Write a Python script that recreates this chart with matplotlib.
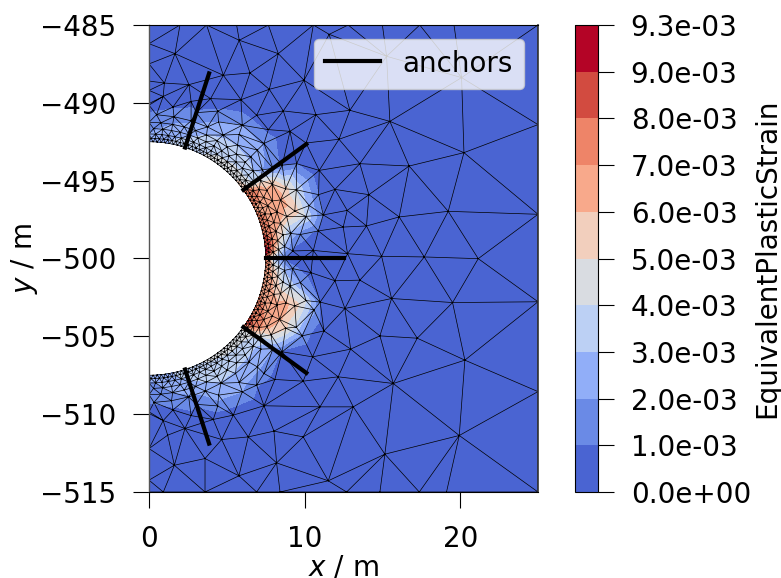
import numpy as np
import matplotlib
matplotlib.use("Agg")
import matplotlib.pyplot as plt
import matplotlib.tri as mtri
from matplotlib.cm import ScalarMappable
from matplotlib.colors import BoundaryNorm, ListedColormap
from matplotlib.ticker import FuncFormatter

# coarse mesh nodes (m), strain in units of 1e-3
coarse_x = [1.67, 5.80, 8.31, 11.58, 0.99, 2.57, 3.96, 5.91, 7.73, 9.96, 4.78, 6.49,
            8.63, 10.73, 6.92, 7.67, 9.06, 10.09, 12.21, 10.94, 11.95, 9.49,
            10.88, 12.48, 10.56, 12.91, 15.48, 13.55, 14.13, 12.74, 13.98, 12.76, 14.95,
            17.69, 21.16, 16.72, 20.24, 16.08, 19.23, 20.09, 15.27, 10.30, 10.90, 10.60, 11.20, 11.00,
            1.99, 3.70, 5.63, 7.67, 10.56, 12.80, 15.0, 17.4, 19.6, 25.0, 0.0, 0.0, 0.0, 0.0, 0.0, 0.0,
            25.0, 25.0, 25.0, 25.0, 25.0,
            11.95, 12.59, 11.24, 9.85, 10.51, 12.16, 9.91, 8.09, 6.92, 7.39, 10.99, 9.91,
            8.03, 6.38, 5.42, 8.20, 5.78, 11.52, 3.60, 4.67, 4.13, 1.63, 1.20, 2.31,
            0.0, 0.0, 0.0, 0.0, 0.92, 3.60, 6.92, 8.42, 12.70, 14.84, 17.37, 19.12,
            13.55, 15.59, 19.51, 14.84, 17.24, 20.30, 12.96, 15.70, 13.13, 15.16, 19.94]
coarse_y = [-486.84, -485.98, -486.84, -485.60, -488.73, -488.83, -489.73, -489.80, -489.13, -488.55, -488.23, -488.08,
            -490.52, -490.76, -490.80, -491.72, -491.83, -492.58, -492.34, -494.34, -495.56, -493.91,
            -498.23, -497.98, -499.48, -490.48, -491.19, -493.91, -495.90, -496.91, -497.91, -499.69, -499.86,
            -499.90, -500.01, -494.06, -493.20, -497.33, -496.97, -488.38, -487.01, -496.60, -495.90, -503.30, -497.20, -502.80,
            -485.0, -485.0, -485.0, -485.0, -485.0, -485.0, -485.0, -485.0, -485.0, -485.0, -485.0, -486.2, -487.5, -488.6, -489.2, -490.05,
            -491.40, -497.16, -502.78, -508.55, -515.0,
            -501.43, -503.21, -504.65, -504.97, -506.32, -507.60, -507.88, -507.77, -508.14, -509.46, -509.53, -511.46,
            -511.09, -511.46, -510.06, -513.13, -513.96, -514.28, -512.85, -511.63, -510.34, -513.28, -511.35, -510.92,
            -509.96, -512.21, -514.24, -515.0, -515.0, -515.0, -515.0, -515.0, -515.0, -515.0, -515.0, -515.0,
            -501.39, -502.57, -502.83, -504.97, -505.12, -506.53, -505.82, -508.03, -509.53, -512.57, -511.37]
coarse_strain = [0, 0, 0, 0, 0, 0, 0, 0, 0, 0, 0, 0,
                 0, 0, 0.4, 0.7, 0, 0, 0, 0, 0, 1.0,
                 0.8, 0, 0, 0, 0, 0, 0, 0, 0, 0, 0,
                 0, 0, 0, 0, 0, 0, 0, 0, 2.6, 1.0, 2.2, 1.0, 1.0,
                 0, 0, 0, 0, 0, 0, 0, 0, 0, 0, 0, 0, 0, 0, 0, 0,
                 0, 0, 0, 0, 0,
                 0, 0, 0, 1.6, 0, 0, 0, 0.7, 1.1, 0, 0, 0,
                 0, 0, 0.3, 0, 0, 0, 0, 0, 0.2, 0, 0, 0,
                 0.4, 0, 0, 0, 0, 0, 0, 0, 0, 0, 0, 0,
                 0, 0, 0, 0, 0, 0, 0, 0, 0, 0, 0]

# refined rings around the opening: radius, node angle (deg), strain (1e-3)
ring_radius = [7.5, 7.72, 8.0, 8.35, 8.75, 9.25, 9.85, 10.45]
ring_angle = [
    [90, 88, 86, 84, 82, 80, 78, 76, 74, 72, 70, 68, 66, 64, 62, 60, 58, 56, 54, 52, 50, 48, 46, 44, 42, 40, 38, 36, 34, 32,
     30, 28, 26, 24, 22, 20, 18, 16, 14, 12, 10, 8, 6, 4, 2, 0, -2, -4, -6, -8, -10, -12, -14, -16, -18, -20, -22, -24, -26, -28,
     -30, -32, -34, -36, -38, -40, -42, -44, -46, -48, -50, -52, -54, -56, -58, -60, -62, -64, -66, -68, -70, -72, -74, -76, -78,
     -80, -82, -84, -86, -88, -90],
    [89, 87, 85, 83, 81, 79, 77, 75, 73, 71, 69, 67, 65, 63, 61, 59, 57, 55, 53, 51, 49, 47, 45, 43, 41, 39, 37, 35, 33, 31,
     29, 27, 25, 23, 21, 19, 17, 15, 13, 11, 9, 7, 5, 3, 1, -1, -3, -5, -7, -9, -11, -13, -15, -17, -19, -21, -23, -25, -27, -29,
     -31, -33, -35, -37, -39, -41, -43, -45, -47, -49, -51, -53, -55, -57, -59, -61, -63, -65, -67, -69, -71, -73, -75, -77, -79,
     -81, -83, -85, -87, -89],
    [90, 87, 84, 81, 78, 75, 72, 69, 66, 63, 60, 57, 54, 51, 48, 45, 42, 39, 36, 33, 30, 27, 24, 21, 18, 15, 12, 9, 6, 3, 0,
     -3, -6, -9, -12, -15, -18, -21, -24, -27, -30, -33, -36, -39, -42, -45, -48, -51, -54, -57, -60, -63, -66, -69, -72, -75, -78, -81, -84, -87, -90],
    [88, 84, 80, 76, 72, 68, 64, 60, 56, 52, 48, 44, 40, 36, 32, 28, 24, 20, 16, 12, 8, 4, 0,
     -4, -8, -12, -16, -20, -24, -28, -32, -36, -40, -44, -48, -52, -56, -60, -64, -68, -72, -76, -80, -84, -88],
    [90, 85, 80, 75, 70, 65, 60, 55, 50, 45, 40, 35, 30, 25, 20, 15, 10, 5, 0,
     -5, -10, -15, -20, -25, -30, -35, -40, -45, -50, -55, -60, -65, -70, -75, -80, -85, -90],
    [87, 80, 73, 66, 59, 52, 45, 38, 31, 24, 17, 10, 3, -4, -11, -18, -25, -32, -39, -46, -53, -60, -67, -74, -81, -88],
    [90, 81, 72, 63, 54, 45, 36, 27, 18, 9, 0, -9, -18, -27, -36, -45, -54, -63, -72, -81, -90],
    [85, 75, 65, 55, 45, 35, 25, 15, -5, -15, -25, -35, -45, -55, -65, -75, -85],
]
ring_strain = [
    [2.2, 2.3, 2.4, 2.6, 2.8, 3.0, 3.1, 3.2, 3.4, 3.5, 3.7, 3.8, 3.9, 4.0, 4.0, 4.2, 4.2, 4.3, 4.4, 4.5, 4.6, 4.6, 4.7, 4.8, 5.0, 5.2, 5.5, 6.5, 8.0, 7.8,
     7.5, 7.2, 7.0, 7.0, 7.2, 7.3, 7.5, 7.6, 7.8, 8.0, 8.2, 8.6, 9.0, 9.3, 9.1, 7.0, 7.5, 7.2, 7.0, 6.8, 6.7, 6.7, 6.8, 6.9, 7.0, 7.1, 7.3, 7.5, 7.7, 7.9,
     8.1, 8.4, 8.6, 6.0, 4.8, 4.5, 4.4, 4.3, 4.3, 4.3, 4.2, 4.2, 4.2, 4.1, 4.1, 4.1, 4.0, 3.9, 3.8, 3.7, 3.6, 3.4, 3.2, 3.1, 3.0,
     2.8, 2.7, 2.5, 2.4, 2.3, 2.2],
    [2.2, 2.3, 2.4, 2.6, 2.8, 3.0, 3.1, 3.2, 3.3, 3.5, 3.6, 3.7, 3.8, 3.9, 4.0, 4.0, 4.1, 4.2, 4.3, 4.3, 4.4, 4.5, 4.5, 4.6, 4.8, 5.0, 5.2, 7.5, 7.8, 7.4,
     7.2, 7.0, 6.8, 6.9, 7.1, 7.2, 7.3, 7.4, 7.6, 7.9, 8.3, 8.6, 8.8, 8.5, 6.0, 6.3, 6.6, 6.6, 6.5, 6.4, 6.4, 6.5, 6.6, 6.8, 6.9, 7.0, 7.2, 7.4, 7.6, 7.8,
     8.0, 8.2, 7.0, 4.8, 4.4, 4.2, 4.2, 4.2, 4.2, 4.1, 4.1, 4.1, 4.0, 4.0, 4.0, 3.9, 3.8, 3.7, 3.6, 3.5, 3.3, 3.2, 3.1, 3.0, 2.8,
     2.6, 2.5, 2.3, 2.2, 2.1],
    [2.0, 2.1, 2.3, 2.6, 2.8, 3.0, 3.1, 3.4, 3.6, 3.7, 3.8, 3.9, 4.0, 4.0, 4.1, 4.1, 4.1, 4.2, 4.5, 7.3, 7.2, 6.9, 6.8, 6.9, 7.0, 7.0, 7.1, 7.3, 7.4, 6.5, 2.5,
     5.0, 5.6, 6.0, 6.2, 6.4, 6.6, 6.8, 7.1, 7.3, 7.6, 7.7, 5.0, 4.2, 4.0, 4.0, 4.0, 3.9, 3.9, 3.9, 3.8, 3.7, 3.5, 3.3, 3.0, 3.0, 2.7, 2.5, 2.2, 2.0, 1.9],
    [1.9, 2.1, 2.4, 2.7, 2.8, 3.1, 3.4, 3.6, 3.7, 3.8, 3.8, 3.7, 3.6, 3.8, 6.8, 6.6, 6.5, 6.6, 6.5, 6.0, 5.5, 4.5, 1.5,
     4.0, 5.0, 5.6, 6.0, 6.4, 6.7, 7.0, 7.2, 4.2, 3.7, 3.7, 3.7, 3.7, 3.7, 3.6, 3.4, 3.1, 2.8, 2.7, 2.3, 2.0, 1.8],
    [1.5, 1.7, 2.0, 2.3, 2.6, 3.0, 3.2, 3.4, 3.4, 3.3, 3.0, 4.5, 6.3, 6.6, 6.7, 5.8, 4.6, 3.0, 0.8,
     2.8, 3.8, 5.4, 6.2, 6.4, 6.4, 4.0, 3.2, 3.3, 3.3, 3.4, 3.4, 3.0, 2.6, 2.3, 2.0, 1.6, 1.4],
    [1.2, 1.5, 1.8, 2.3, 2.8, 2.9, 2.7, 2.0, 6.0, 6.4, 5.6, 2.6, 0.8, 1.3, 3.6, 6.2, 6.2, 5.0, 2.4, 2.6, 2.8, 2.9, 2.3, 1.8, 1.5, 1.1],
    [0.6, 0.9, 1.2, 2.0, 2.6, 2.4, 1.5, 5.4, 5.6, 1.5, 0.1, 1.8, 5.6, 5.2, 2.0, 2.3, 2.6, 2.4, 1.2, 0.8, 0.5],
    [0.2, 0.6, 1.2, 2.0, 1.8, 0.8, 3.8, 3.8, 0.5, 4.0, 3.6, 0.9, 1.4, 2.0, 1.6, 0.7, 0.2],
]

anchor_x = [[2.32, 3.86], [6.07, 10.11], [7.5, 12.5], [6.07, 10.11], [2.32, 3.86]]
anchor_y = [[-492.87, -488.11], [-495.59, -492.65], [-500.0, -500.0], [-504.41, -507.35], [-507.13, -511.89]]

levels = [0.0, 1.0, 2.0, 3.0, 4.0, 5.0, 6.0, 7.0, 8.0, 9.0, 9.3]
level_colors = ["#4a64d2", "#6a8ae6", "#91aef8", "#bcd0f4", "#d9dce1",
                "#f2cfbd", "#f8a98b", "#ee8468", "#d24b40", "#b40426"]

plt.rcParams["font.size"] = 20
plt.rcParams["mathtext.default"] = "it"

x = list(coarse_x)
y = list(coarse_y)
z = list(coarse_strain)
for r, angles, values in zip(ring_radius, ring_angle, ring_strain):
    a = np.radians(angles)
    x.extend(np.round(r * np.cos(a), 6))
    y.extend(np.round(-500.0 + r * np.sin(a), 6))
    z.extend(values)
x, y, z = np.array(x), np.array(y), np.array(z)

tri = mtri.Triangulation(x, y)
cx = x[tri.triangles].mean(axis=1)
cy = y[tri.triangles].mean(axis=1)
tri.set_mask(np.hypot(cx, cy + 500.0) < 7.5)

fig = plt.figure(figsize=(7.81, 5.78), dpi=100)
ax = fig.add_axes([149 / 781, 1 - 492 / 578, 389 / 781, 467 / 578])
cmap = ListedColormap(level_colors)
norm = BoundaryNorm(levels, cmap.N)
ax.tricontourf(tri, z, levels=levels, colors=level_colors)
ax.triplot(tri, color="k", lw=0.5)
for i in range(len(anchor_x)):
    ax.plot(anchor_x[i], anchor_y[i], color="k", lw=3, label="anchors" if i == 0 else None)
ax.set_xlim(0, 25)
ax.set_ylim(-515, -485)
ax.set_xticks([0, 10, 20])
ax.set_yticks([-515, -510, -505, -500, -495, -490, -485])
ax.tick_params(length=11.5, width=0.8, pad=12)
ax.spines["left"].set_color("#555555")
ax.spines["left"].set_linewidth(1.0)
ax.spines["right"].set_color("#333333")
ax.spines["right"].set_linewidth(1.2)
ax.set_xlabel("$x$ / m", labelpad=0.5)
ax.set_ylabel("$y$ / m", labelpad=0)
ax.legend(loc="upper right", handleheight=1.0)

cax = fig.add_axes([575 / 781, 1 - 492 / 578, 23 / 781, 467 / 578])
cb = fig.colorbar(ScalarMappable(norm=norm, cmap=cmap), cax=cax, spacing="uniform",
                  ticks=levels, format=FuncFormatter(lambda v, p: f"{v * 1e-3:.1e}"))
cb.ax.tick_params(length=11.5, width=0.8, pad=12)
cb.set_label("EquivalentPlasticStrain", labelpad=1.5)
fig.savefig("out.png", dpi=100)
